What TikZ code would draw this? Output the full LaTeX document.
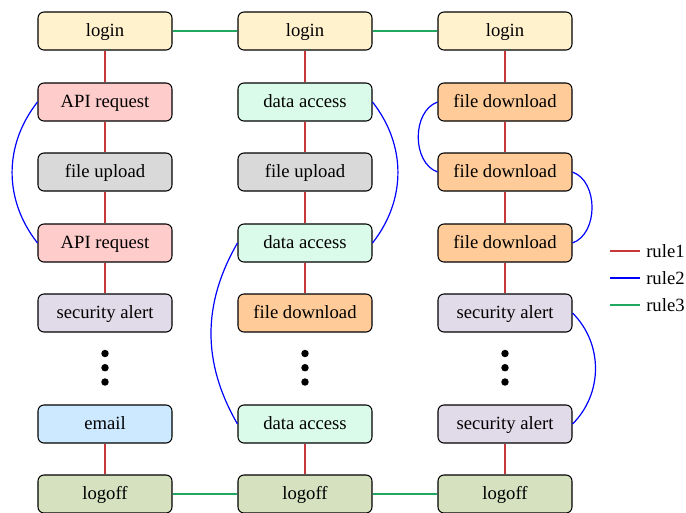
\documentclass[tikz,border=0pt]{standalone}
\usepackage{fontspec}
\setmainfont{Liberation Serif}
\begin{document}
\begin{tikzpicture}[x=0.75pt,y=-0.75pt,
  box/.style={draw=black, line width=0.8pt, rounded corners=4.5pt, minimum width=100.5pt, minimum height=28.5pt, inner sep=0pt, text height=11pt, text depth=2.4pt, font=\fontsize{14}{16}\selectfont},
  r1/.style={draw=rulered, line width=1pt},
  r2/.style={draw=blue, line width=0.9pt},
  r3/.style={draw=rulegreen, line width=1pt},
  dot/.style={circle, fill=black, inner sep=0pt, minimum size=5.6pt}
]
\definecolor{rulered}{HTML}{C83838}
\definecolor{rulegreen}{HTML}{20A860}
\definecolor{clogin}{HTML}{FFF2CC}
\definecolor{capi}{HTML}{FFCCCC}
\definecolor{cupload}{HTML}{D9D9D9}
\definecolor{cdata}{HTML}{DAFBEA}
\definecolor{cdown}{HTML}{FFCC99}
\definecolor{csec}{HTML}{E1DAE8}
\definecolor{cmail}{HTML}{CCE9FF}
\definecolor{clogoff}{HTML}{D6E2BF}
\useasboundingbox (0,0) rectangle (686,512);
% column 1
\node[box, fill=clogin] (a1) at (105,31) {login};
\node[box, fill=capi] (a2) at (105,102) {API request};
\node[box, fill=cupload] (a3) at (105,172) {file upload};
\node[box, fill=capi] (a4) at (105,243) {API request};
\node[box, fill=csec] (a5) at (105,313) {security alert};
\node[box, fill=cmail] (a7) at (105,424) {email};
\node[box, fill=clogoff] (a8) at (105,494) {logoff};
% column 2
\node[box, fill=clogin] (b1) at (305,31) {login};
\node[box, fill=cdata] (b2) at (305,102) {data access};
\node[box, fill=cupload] (b3) at (305,172) {file upload};
\node[box, fill=cdata] (b4) at (305,243) {data access};
\node[box, fill=cdown] (b5) at (305,313) {file download};
\node[box, fill=cdata] (b7) at (305,424) {data access};
\node[box, fill=clogoff] (b8) at (305,494) {logoff};
% column 3
\node[box, fill=clogin] (c1) at (505,31) {login};
\node[box, fill=cdown] (c2) at (505,102) {file download};
\node[box, fill=cdown] (c3) at (505,172) {file download};
\node[box, fill=cdown] (c4) at (505,243) {file download};
\node[box, fill=csec] (c5) at (505,313) {security alert};
\node[box, fill=csec] (c7) at (505,424) {security alert};
\node[box, fill=clogoff] (c8) at (505,494) {logoff};
% dots
\foreach \col/\x in {a/105,b/305,c/505}{
  \node[dot] (\col d1) at (\x,353.5) {};
  \node[dot] (\col d2) at (\x,367.7) {};
  \node[dot] (\col d3) at (\x,382) {};
}
% rule1
\foreach \col in {a,b,c}{
  \draw[r1] (\col1) -- (\col2);
  \draw[r1] (\col2) -- (\col3);
  \draw[r1] (\col3) -- (\col4);
  \draw[r1] (\col4) -- (\col5);
  \draw[r1] (\col7) -- (\col8);
}
% rule3
\draw[r3] (a1) -- (b1);
\draw[r3] (b1) -- (c1);
\draw[r3] (a8) -- (b8);
\draw[r3] (b8) -- (c8);
% rule2
\draw[r2] (a2.west) to[bend right=38] (a4.west);
\draw[r2] (b2.east) to[bend left=38] (b4.east);
\draw[r2] (b4.west) to[bend right=30] (b7.west);
\draw[r2] (c2.west) to[bend right=70] (c3.west);
\draw[r2] (c3.east) to[bend left=70] (c4.east);
\draw[r2] (c5.east) to[bend left=45] (c7.east);
% legend
\coordinate (l1a) at (610,251); \coordinate (l1b) at (640,251);
\coordinate (l2a) at (610,278); \coordinate (l2b) at (640,278);
\coordinate (l3a) at (610,305); \coordinate (l3b) at (640,305);
\draw[r1] (l1a) -- (l1b);
\draw[r2] (l2a) -- (l2b);
\draw[r3] (l3a) -- (l3b);
\node[anchor=west, inner sep=0pt, font=\fontsize{14}{16}\selectfont] (t1) at (646,251) {rule1};
\node[anchor=west, inner sep=0pt, font=\fontsize{14}{16}\selectfont] (t2) at (646,278) {rule2};
\node[anchor=west, inner sep=0pt, font=\fontsize{14}{16}\selectfont] (t3) at (646,305) {rule3};
\end{tikzpicture}
\end{document}
